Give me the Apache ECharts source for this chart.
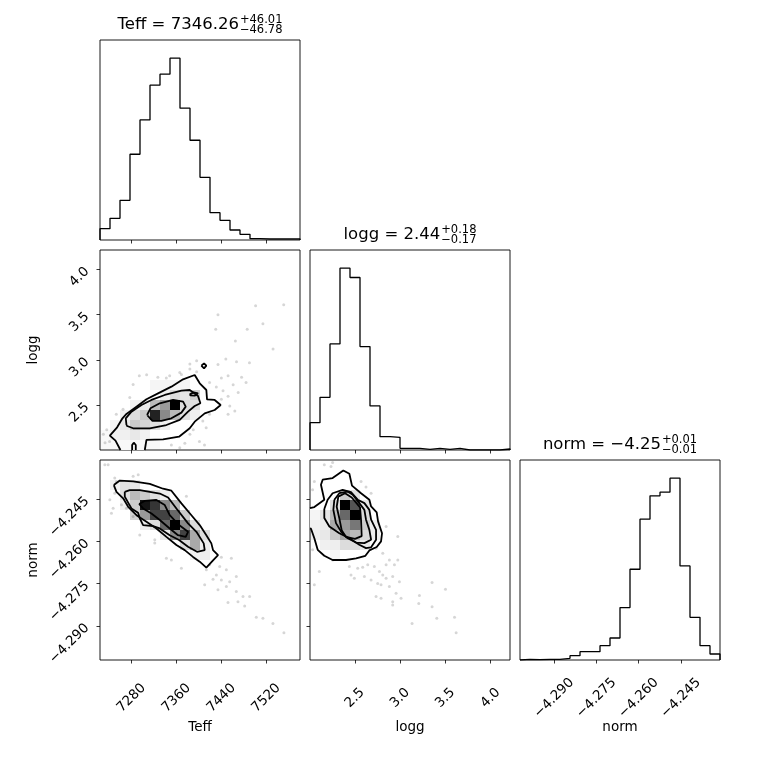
<!DOCTYPE html>
<html><head><meta charset="utf-8">
<script src="https://cdn.jsdelivr.net/npm/echarts@6/dist/echarts.min.js"></script>
<style>html,body{margin:0;padding:0;background:#fff}#c{width:760px;height:760px}</style>
</head><body><div id="c"></div>
<script>
// ---------------- data ----------------
const paramNames = ['Teff', 'logg', 'norm'];
const titleMedians = ['7346.26', '2.44', '−4.25'];
const titleUpper = ['46.01', '0.18', '0.01'];
const titleLower = ['46.78', '0.17', '0.01'];

const teffRange = [7224, 7580];
const loggRange = [2.005, 4.215];
const normRange = [-4.3021, -4.2311];

const teffTicks = [7280, 7360, 7440, 7520];
const loggTicks = [2.5, 3.0, 3.5, 4.0];
const normTicks = [-4.290, -4.275, -4.260, -4.245];
const teffTickLabels = ['7280', '7360', '7440', '7520'];
const loggTickLabels = ['2.5', '3.0', '3.5', '4.0'];
const normTickLabels = ['−4.290', '−4.275', '−4.260', '−4.245'];

// 1D histogram counts (20 bins each)
const teffCounts = [34, 65, 119, 257, 360, 464, 497, 545, 395, 299, 188, 82, 59, 30, 17, 4, 3, 3, 3, 3];
const loggCounts = [82, 158, 318, 545, 517, 310, 132, 40, 38, 5, 5, 2, 5, 2, 5, 0, 0, 0, 0, 3];
const normCounts = [2, 1, 2, 2, 5, 13, 25, 25, 43, 66, 157, 272, 422, 492, 503, 545, 282, 128, 43, 18];

// 2D histogram cells: [xBin, yBin (from axis minimum), relative density]
const teffLoggCells = [
  [5,6,.20],[6,6,.20],[7,6,.20],[8,6,.20],
  [6,5,.26],[7,5,.37],[8,5,.32],[9,5,.43],
  [3,4,.24],[4,4,.30],[5,4,.52],[6,4,.63],[7,4,1.0],[8,4,.37],[9,4,.35],
  [2,3,.26],[3,3,.37],[4,3,.46],[5,3,.93],[6,3,.68],[7,3,.52],[8,3,.35],[9,3,.24],
  [1,2,.20],[2,2,.30],[3,2,.45],[4,2,.41],[5,2,.35],[6,2,.26],
  [0,1,.17],[1,1,.24],[2,1,.24],[3,1,.30],[4,1,.24],
  [0,0,.17],[1,0,.17],[2,0,.17],[3,0,.17],[4,0,.17],[5,0,.17]
];
const teffNormCells = [
  [1,17,.24],[2,17,.35],[3,17,.30],
  [2,16,.35],[3,16,.52],[4,16,.45],[5,16,.35],[6,16,.26],
  [2,15,.26],[3,15,.45],[4,15,.96],[5,15,.89],[6,15,.68],[7,15,.52],
  [3,14,.40],[4,14,.63],[5,14,.86],[6,14,.86],[7,14,.77],[8,14,.45],
  [4,13,.26],[5,13,.37],[6,13,.77],[7,13,1.0],[8,13,.68],[9,13,.37],
  [6,12,.30],[7,12,.68],[8,12,.86],[9,12,.58],[10,12,.37],
  [8,11,.37],[9,11,.58],[10,11,.26],
  [9,10,.24],[10,10,.26]
];
const loggNormCells = [
  [3,16,.45],[4,16,.35],
  [2,15,.37],[3,15,1.0],[4,15,.82],[5,15,.30],
  [0,14,.20],[1,14,.32],[2,14,.52],[3,14,.77],[4,14,1.0],[5,14,.37],
  [0,13,.24],[1,13,.26],[2,13,.58],[3,13,.63],[4,13,.73],[5,13,.45],[6,13,.26],
  [0,12,.24],[1,12,.30],[2,12,.45],[3,12,.58],[4,12,.52],[5,12,.37],[6,12,.26],
  [1,11,.24],[2,11,.26],[3,11,.37],[4,11,.37],[5,11,.30],
  [2,10,.20]
];

// scattered samples outside the contours
const teffLoggPoints = [[7501,3.60],[7551,3.61],[7434,3.50],[7514,3.40],[7486,3.34],[7430,3.34],[7465,3.21],[7532,3.12],[7448,3.01],[7467,2.98],[7490,2.97],[7434,2.95],[7384,2.90],[7396,2.87],[7369,2.84],[7440,2.80],[7452,2.825],[7476,2.81],[7461,2.725],[7484,2.75],[7431,2.70],[7419,2.75],[7443,2.66],[7470,2.64],[7452,2.60],[7440,2.565],[7464,2.436],[7455,2.49],[7452,2.40],[7419,2.40],[7407,2.325],[7413,2.25],[7401,2.10],[7410,2.06],[7375,2.08],[7351,2.06],[7366,2.03],[7283,2.73],[7294,2.825],[7307,2.836],[7327,2.81],[7342,2.80],[7277,2.584],[7265,2.455],[7253,2.40],[7236,2.23],[7230,2.18],[7233,2.085],[7241,2.10],[7295,2.03],[7384,2.18],[7390,2.23],[7384,2.955],[7396,2.99],[7348,2.825],[7366,2.86]];
const teffNormPoints = [[7232.6,-4.2328],[7238.5,-4.2328],[7250.3,-4.2375],[7253.3,-4.2387],[7283,-4.2369],[7292,-4.2363],[7265,-4.2423],[7250.3,-4.2429],[7241.5,-4.2452],[7247.4,-4.2482],[7244.4,-4.2500],[7262.2,-4.2470],[7271,-4.2482],[7283,-4.2512],[7294.8,-4.2577],[7321.5,-4.2594],[7321.5,-4.2606],[7342.2,-4.2660],[7351.1,-4.2666],[7368.9,-4.2695],[7377.8,-4.2440],[7440,-4.2656],[7457.8,-4.2660],[7437,-4.2689],[7448.9,-4.2701],[7431.1,-4.2719],[7425.2,-4.2734],[7466.6,-4.2725],[7440,-4.2737],[7454.8,-4.2743],[7410.3,-4.2754],[7448.9,-4.2760],[7434,-4.2772],[7466.6,-4.2778],[7478.5,-4.2796],[7490.3,-4.2796],[7469.6,-4.2814],[7451.8,-4.2817],[7481.5,-4.2829],[7502.2,-4.2869],[7514,-4.2873],[7531.8,-4.2891],[7551.4,-4.2924],[7413.3,-4.2701],[7419.2,-4.2683]];
const loggNormPoints = [[2.163,-4.2328],[2.255,-4.2320],[2.237,-4.2334],[2.053,-4.2387],[2.034,-4.2417],[2.569,-4.2387],[2.680,-4.2429],[2.624,-4.2407],[2.846,-4.2547],[2.975,-4.2583],[2.034,-4.2630],[2.108,-4.2707],[2.053,-4.2754],[2.255,-4.2666],[2.440,-4.2689],[2.532,-4.2695],[2.587,-4.2692],[2.643,-4.2683],[2.716,-4.2689],[2.772,-4.2707],[2.846,-4.2683],[2.882,-4.2666],[2.938,-4.2683],[2.975,-4.2666],[2.809,-4.2719],[2.919,-4.2725],[2.993,-4.2743],[2.458,-4.2719],[2.495,-4.2731],[2.606,-4.2725],[2.680,-4.2737],[2.753,-4.2749],[2.846,-4.2731],[2.790,-4.2754],[2.882,-4.2760],[2.956,-4.2784],[3.011,-4.2802],[2.735,-4.2796],[2.790,-4.2802],[2.919,-4.2814],[2.919,-4.2826],[3.214,-4.2792],[3.354,-4.2746],[3.502,-4.2770],[3.207,-4.2820],[3.354,-4.2832],[3.406,-4.2873],[3.602,-4.2869],[3.620,-4.2924],[3.133,-4.2891],[2.735,-4.2624],[2.809,-4.2642]];

// contour lines (first one is the outermost level)
const teffLoggContours = [
  [[7260.4,2.005],[7251.6,2.108],[7241.5,2.164],[7254.5,2.256],[7264.0,2.355],[7271.1,2.403],[7288.9,2.484],[7306.7,2.565],[7327.4,2.631],[7351.1,2.705],[7371.9,2.786],[7392.6,2.834],[7401.5,2.742],[7413.3,2.668],[7414.5,2.565],[7428.1,2.558],[7438.8,2.502],[7428.1,2.447],[7410.4,2.410],[7392.6,2.318],[7383.7,2.245],[7364.7,2.152],[7336.3,2.123],[7306.7,2.116],[7303.7,2.005]],
  [[7271.1,2.281],[7269.9,2.355],[7280.0,2.429],[7297.8,2.502],[7315.6,2.558],[7339.3,2.613],[7368.9,2.661],[7383.7,2.668],[7398.5,2.602],[7402.7,2.521],[7392.6,2.491],[7380.7,2.429],[7365.9,2.337],[7342.2,2.281],[7312.6,2.245],[7283.0,2.245],[7272.3,2.270],[7271.1,2.281]],
  [[7307.8,2.392],[7313.8,2.466],[7330.4,2.521],[7354.1,2.558],[7371.9,2.539],[7376.6,2.484],[7368.9,2.418],[7351.1,2.355],[7333.3,2.326],[7317.3,2.326],[7307.8,2.392]],
  [[7383.7,2.620],[7390.8,2.642],[7398.5,2.631],[7392.6,2.605],[7384.9,2.609],[7383.7,2.620]],
  [[7404.4,2.937],[7409.2,2.963],[7413.3,2.937],[7409.2,2.907],[7404.4,2.937]],
  [[7281.2,2.005],[7281.2,2.060],[7284.1,2.086],[7287.7,2.060],[7287.7,2.005]]
];
const teffNormContours = [
  [[7248.6,-4.2400],[7259.3,-4.2384],[7283.0,-4.2387],[7312.6,-4.2396],[7336.3,-4.2413],[7351.1,-4.2420],[7368.9,-4.2465],[7386.7,-4.2507],[7401.5,-4.2542],[7413.3,-4.2578],[7422.2,-4.2607],[7425.2,-4.2631],[7434.1,-4.2649],[7425.2,-4.2667],[7413.3,-4.2693],[7401.5,-4.2672],[7389.6,-4.2655],[7374.8,-4.2631],[7360.0,-4.2613],[7342.2,-4.2584],[7324.4,-4.2554],[7306.7,-4.2530],[7288.9,-4.2507],[7274.1,-4.2477],[7265.2,-4.2447],[7253.3,-4.2424],[7248.6,-4.2400]],
  [[7268.1,-4.2424],[7277.0,-4.2418],[7294.8,-4.2418],[7330.4,-4.2430],[7345.2,-4.2444],[7360.0,-4.2483],[7380.7,-4.2536],[7395.6,-4.2566],[7408.6,-4.2607],[7410.4,-4.2631],[7396.7,-4.2637],[7380.7,-4.2619],[7364.7,-4.2595],[7348.1,-4.2578],[7330.4,-4.2554],[7318.5,-4.2546],[7300.7,-4.2542],[7294.8,-4.2518],[7291.8,-4.2498],[7280.0,-4.2483],[7268.1,-4.2441],[7268.1,-4.2424]],
  [[7293.6,-4.2467],[7303.7,-4.2456],[7324.4,-4.2453],[7339.3,-4.2471],[7348.1,-4.2507],[7364.7,-4.2542],[7380.7,-4.2566],[7376.6,-4.2584],[7362.9,-4.2578],[7348.1,-4.2554],[7330.4,-4.2524],[7315.6,-4.2501],[7300.7,-4.2483],[7293.6,-4.2467]]
];
const loggNormContours = [
  [[2.005,-4.2482],[2.053,-4.2478],[2.163,-4.2452],[2.126,-4.2399],[2.145,-4.2381],[2.255,-4.2375],[2.373,-4.2348],[2.440,-4.2360],[2.469,-4.2402],[2.569,-4.2429],[2.661,-4.2452],[2.680,-4.2476],[2.742,-4.2497],[2.757,-4.2529],[2.801,-4.2571],[2.790,-4.2600],[2.742,-4.2620],[2.661,-4.2632],[2.617,-4.2651],[2.514,-4.2660],[2.403,-4.2666],[2.255,-4.2666],[2.163,-4.2651],[2.090,-4.2630],[2.053,-4.2589],[2.016,-4.2555],[2.005,-4.2554]],
  [[2.163,-4.2485],[2.200,-4.2452],[2.255,-4.2429],[2.366,-4.2417],[2.458,-4.2425],[2.532,-4.2452],[2.606,-4.2464],[2.661,-4.2488],[2.680,-4.2523],[2.735,-4.2559],[2.735,-4.2594],[2.680,-4.2621],[2.624,-4.2624],[2.550,-4.2612],[2.440,-4.2589],[2.329,-4.2571],[2.219,-4.2547],[2.163,-4.2517],[2.163,-4.2485]],
  [[2.274,-4.2452],[2.329,-4.2429],[2.421,-4.2423],[2.477,-4.2434],[2.550,-4.2464],[2.606,-4.2488],[2.624,-4.2523],[2.661,-4.2559],[2.680,-4.2594],[2.606,-4.2606],[2.514,-4.2604],[2.421,-4.2589],[2.348,-4.2565],[2.292,-4.2535],[2.263,-4.2488],[2.274,-4.2452]],
  [[2.318,-4.2441],[2.392,-4.2429],[2.466,-4.2444],[2.558,-4.2479],[2.569,-4.2524],[2.576,-4.2581],[2.502,-4.2591],[2.403,-4.2584],[2.355,-4.2560],[2.329,-4.2518],[2.300,-4.2477],[2.318,-4.2441]]
];

// ---------------- chart ----------------
const BINS = 20;
const FONT = '"DejaVu Sans", sans-serif';
const gridBoxes = [[100,40],[100,250],[310,250],[100,460],[310,460],[520,460]];
const PANEL = 200;

function edges(r){ const e=[]; for(let i=0;i<=BINS;i++) e.push(r[0]+(r[1]-r[0])*i/BINS); return e; }
function stepData(counts, r){ const e=edges(r); const d=[[e[0],0]]; counts.forEach((c,i)=>{d.push([e[i],c]);d.push([e[i+1],c]);}); d.push([e[BINS],0]); return d; }
function cellData(cells, xr, yr){ const dx=(xr[1]-xr[0])/BINS, dy=(yr[1]-yr[0])/BINS; return cells.map(([i,j,h])=>[xr[0]+(i+0.5)*dx, yr[0]+(j+0.5)*dy, h]); }
function fmt(ticks, labels){ return v => { const i = ticks.findIndex(t => Math.abs(t-v) < 1e-7); return i>=0 ? labels[i] : ''; }; }

const tickStyle = {color:'#000', width:0.8};
function xAx(gi, r, ticks, labels, showLabels, name){
  return {type:'value', gridIndex:gi, min:r[0], max:r[1],
    axisLine:{show:false}, splitLine:{show:false},
    axisTick:{show:true, inside:false, length:3.5, customValues:ticks, lineStyle:tickStyle},
    axisLabel:{show:showLabels, customValues:ticks, formatter:fmt(ticks,labels), rotate:45, align:'center', verticalAlign:'middle', margin:38, fontSize:13.5, fontFamily:FONT, color:'#000'},
    name: name || '', nameLocation:'middle', nameGap:60, nameMoveOverlap:false,
    nameTextStyle:{fontSize:13.5, fontFamily:FONT, color:'#000', verticalAlign:'top'}};
}
function yAx(gi, r, ticks, labels, showLabels, name){
  return {type:'value', gridIndex:gi, min:r[0], max:r[1],
    axisLine:{show:false}, splitLine:{show:false},
    axisTick:{show:true, inside:false, length:3.5, customValues:ticks, lineStyle:tickStyle},
    axisLabel:{show:showLabels, customValues:ticks, formatter:fmt(ticks,labels), rotate:45, align:'right', verticalAlign:'middle', margin:13, fontSize:13.5, fontFamily:FONT, color:'#000'},
    name: name || '', nameLocation:'middle', nameGap:60, nameMoveOverlap:false,
    nameTextStyle:{fontSize:13.5, fontFamily:FONT, color:'#000'}};
}
function histY(gi, counts){
  return {type:'value', gridIndex:gi, min:0, max:1.1*Math.max(...counts), axisLine:{show:false}, splitLine:{show:false}, axisTick:{show:false}, axisLabel:{show:false}};
}

const grids = gridBoxes.map(([l,t]) => ({left:l, top:t, width:PANEL, height:PANEL, show:true, borderColor:'#000', borderWidth:0.9, backgroundColor:'transparent'}));

const xAxes = [
  xAx(0, teffRange, teffTicks, teffTickLabels, false),
  xAx(1, teffRange, teffTicks, teffTickLabels, false),
  xAx(2, loggRange, loggTicks, loggTickLabels, false),
  xAx(3, teffRange, teffTicks, teffTickLabels, true, paramNames[0]),
  xAx(4, loggRange, loggTicks, loggTickLabels, true, paramNames[1]),
  xAx(5, normRange, normTicks, normTickLabels, true, paramNames[2])
];
const yAxes = [
  histY(0, teffCounts),
  yAx(1, loggRange, loggTicks, loggTickLabels, true, paramNames[1]),
  histY(2, loggCounts),
  yAx(3, normRange, normTicks, normTickLabels, true, paramNames[2]),
  yAx(4, normRange, normTicks, normTickLabels, false),
  histY(5, normCounts)
];

const series = [];
function addHist(gi, counts, r){
  series.push({type:'line', xAxisIndex:gi, yAxisIndex:gi, data:stepData(counts, r), symbol:'none', silent:true, lineStyle:{color:'#000', width:1.3}, z:4});
}
function add2D(gi, xr, yr, points, cells, contours){
  series.push({type:'scatter', xAxisIndex:gi, yAxisIndex:gi, data:points, symbolSize:3, silent:true, itemStyle:{color:'rgba(0,0,0,0.2)'}, z:1});
  const outer = contours[0];
  series.push({type:'custom', xAxisIndex:gi, yAxisIndex:gi, z:2, silent:true, data:[outer[0]],
    renderItem:(p, api) => ({type:'polygon', shape:{points: outer.map(pt => api.coord(pt))}, style:{fill:'#fff'}})});
  const dx=(xr[1]-xr[0])/BINS, dy=(yr[1]-yr[0])/BINS;
  series.push({type:'custom', xAxisIndex:gi, yAxisIndex:gi, z:3, silent:true, data:cellData(cells, xr, yr),
    renderItem:(p, api) => {
      const cx=api.value(0), cy=api.value(1), h=api.value(2);
      const a=api.coord([cx-dx/2, cy+dy/2]), b=api.coord([cx+dx/2, cy-dy/2]);
      const x0=Math.round(a[0]), y0=Math.round(a[1]), x1=Math.round(b[0]), y1=Math.round(b[1]);
      return {type:'rect', shape:{x:x0, y:y0, width:x1-x0, height:y1-y0}, style:{fill:'rgba(0,0,0,'+(h*h).toFixed(3)+')'}};
    }});
  contours.forEach(c => series.push({type:'line', xAxisIndex:gi, yAxisIndex:gi, data:c, symbol:'none', silent:true, lineStyle:{color:'#000', width:1.8}, z:4}));
}
addHist(0, teffCounts, teffRange);
add2D(1, teffRange, loggRange, teffLoggPoints, teffLoggCells, teffLoggContours);
addHist(2, loggCounts, loggRange);
add2D(3, teffRange, normRange, teffNormPoints, teffNormCells, teffNormContours);
add2D(4, loggRange, normRange, loggNormPoints, loggNormCells, loggNormContours);
addHist(5, normCounts, normRange);

// titles with stacked super/subscripts
const ctx = document.createElement('canvas').getContext('2d');
function tw(text, size){ ctx.font = size + 'px ' + FONT; return ctx.measureText(text).width; }
const diagPanels = [0, 2, 5];
const graphic = [];
paramNames.forEach((nm, k) => {
  const [l, t] = gridBoxes[diagPanels[k]];
  const main = nm + ' = ' + titleMedians[k];
  const sup = '+' + titleUpper[k], sub = '−' + titleLower[k];
  const wm = tw(main, 16.5), ws = Math.max(tw(sup, 11.5), tw(sub, 11.5));
  const x0 = l + PANEL/2 - (wm + 1 + ws)/2;
  graphic.push({type:'text', x:x0, y:t-15, silent:true, style:{text:main, font:'16.5px ' + FONT, fill:'#000', align:'left', verticalAlign:'middle'}});
  graphic.push({type:'text', x:x0+wm+1, y:t-19.5, silent:true, style:{text:sup, font:'11.5px ' + FONT, fill:'#000', align:'left', verticalAlign:'middle'}});
  graphic.push({type:'text', x:x0+wm+1, y:t-9.5, silent:true, style:{text:sub, font:'11.5px ' + FONT, fill:'#000', align:'left', verticalAlign:'middle'}});
});

const chart = echarts.init(document.getElementById('c'), null, {width:760, height:760});
chart.setOption({backgroundColor:'#fff', animation:false, grid:grids, xAxis:xAxes, yAxis:yAxes, series, graphic});
</script></body></html>
